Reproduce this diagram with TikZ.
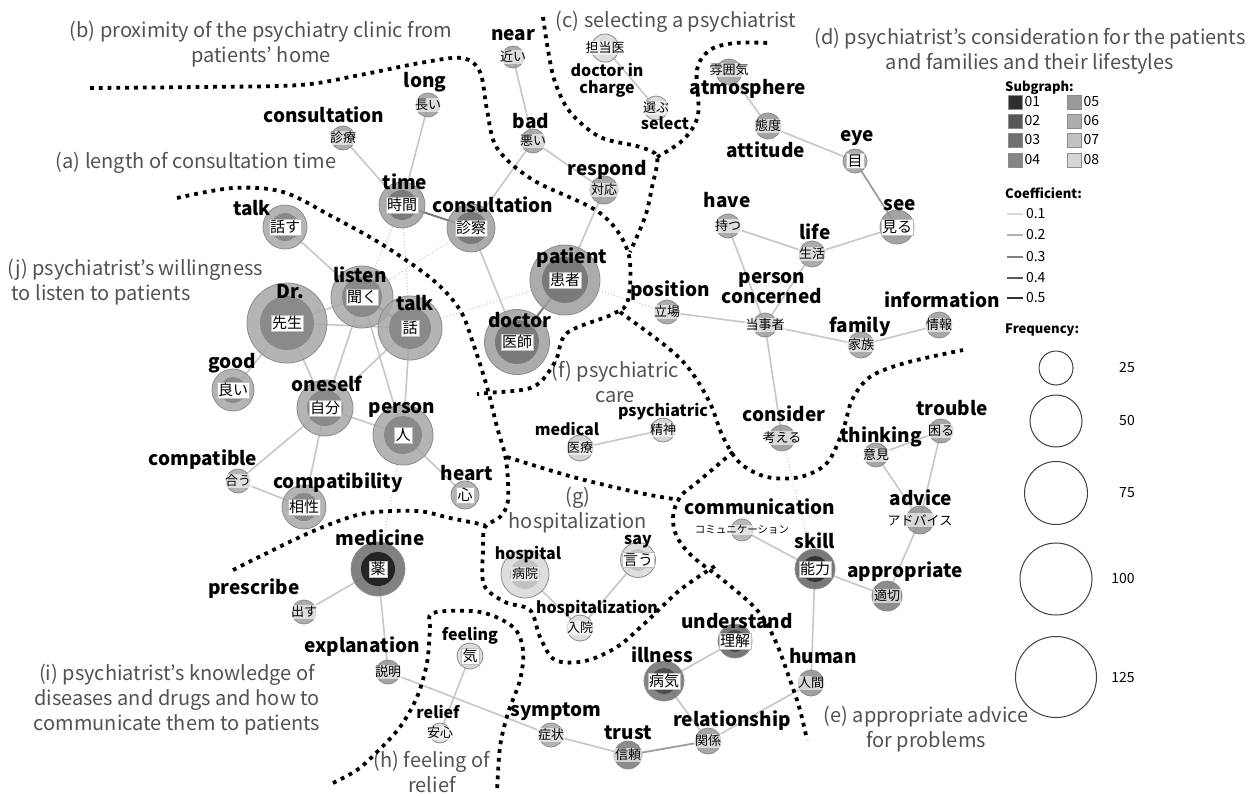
\documentclass[tikz,border=0pt]{standalone}
\usepackage{fontspec}
\setmainfont{Noto Sans CJK JP}
\usepackage{tikz}
\usetikzlibrary{backgrounds}
\newcommand\enfont{\bfseries\fontsize{19}{20}\selectfont}
\newcommand\ensfont{\bfseries\fontsize{16}{17}\selectfont}
\newcommand\jpfont{\fontsize{13}{14}\selectfont}
\newcommand\jpbfont{\fontsize{15}{16}\selectfont}
\newcommand\grpfont{\fontsize{20}{25}\selectfont}
\tikzset{
  wd/.style 2 args = {circle, draw=black!45, line width=0.8pt, fill=#1,
                      fill opacity=0.85, minimum size=#2, inner sep=0pt},
  core/.style 2 args = {path picture={\fill[#1, fill opacity=1]
                      (path picture bounding box.center) circle[radius=#2];}},
  jpb/.style   = {font=\jpbfont, fill=white, draw=black!25, line width=0.4pt,
                  inner sep=1.2pt},
  jps/.style   = {font=\jpfont, fill=white, fill opacity=0.6, text opacity=1,
                  inner sep=1pt},
  en/.style 2 args  = {font=\enfont, align=center, inner sep=0pt,
                       xshift=#1, yshift=#2},
  ens/.style 2 args = {font=\ensfont, align=center, inner sep=0pt,
                       xshift=#1, yshift=#2},
  grp/.style   = {font=\grpfont, text=black!68, align=center, inner sep=0pt},
  ed/.style    = {draw=black!22, line width=1.6pt},
  edmid/.style = {draw=black!38, line width=1.8pt},
  eddk/.style  = {draw=black!52, line width=2pt},
  eddot/.style = {draw=black!22, line width=1pt, dotted},
  bound/.style = {line width=3.8pt, dash pattern=on 3.8pt off 5pt},
  lgt/.style   = {font=\bfseries\fontsize{13}{14}\selectfont, anchor=west, inner sep=0pt},
  lg/.style    = {font=\fontsize{14}{15}\selectfont, inner sep=2pt},
  sq/.style    = {draw=black!45, line width=0.6pt, minimum size=14, inner sep=0pt},
  cf/.style    = {line width=2pt},
  fq/.style    = {circle, draw=black!75, line width=1pt, inner sep=0pt}
}
\begin{document}
\begin{tikzpicture}[x=1pt, y=-1pt]
\useasboundingbox (0,0) rectangle (1255,795);

% region labels
\node[grp] (rb) at (261,44) {(b) proximity of the psychiatry clinic from\\patients’ home};
\node[grp] (rc) at (676,22) {(c) selecting a psychiatrist};
\node[grp] (rd) at (1030,51) {(d) psychiatrist’s consideration for the patients\\and families and their lifestyles};
\node[grp] (ra) at (196,163) {(a) length of consultation time};
\node[grp, anchor=west, align=left] (rj) at (7,282) {(j) psychiatrist’s willingness\\\ to listen to patients};
\node[grp] (rf) at (615,382) {(f) psychiatric\\care};
\node[grp] (rg) at (578,510) {(g)\\hospitalization};
\node[grp] (ri) at (177,700) {(i) psychiatrist’s knowledge of\\diseases and drugs and how to\\communicate them to patients};
\node[grp] (rh) at (432,772) {(h) feeling of\\relief};
\node[grp] (re) at (926,729) {(e) appropriate advice\\for problems};

% (b), (c): proximity, selection
\node[wd={black!38}{22}, label={[jps]center:近い}, label={[en={0}{22}]center:near}] (near) at (513,57) {};
\node[wd={black!15}{28}, label={[jps]center:担当医}, label={[ens={2}{-32}]center:doctor in\\charge}] (charge) at (605,48) {};
\node[wd={black!15}{24}, label={[jps]center:選ぶ}, label={[ens={9}{-15}]center:select}] (select) at (656,108) {};
\node[wd={black!38}{24}, label={[jps]center:悪い}, label={[en={-2}{20}]center:bad}] (bad) at (533,141) {};
\node[wd={black!40}{28}, label={[jps]center:対応}, label={[en={3}{20}]center:respond}] (respond) at (604,190) {};

% (a): consultation time
\node[wd={black!38}{24}, label={[jps]center:長い}, label={[en={-3}{23}]center:long}] (long) at (428,105) {};
\node[wd={black!38}{24}, label={[jps]center:診療}, label={[en={-19}{23}]center:consultation}] (consult) at (343,138) {};
\node[wd={black!38}{46}, core={black!52}{15}, label={[jpb]center:時間}, label={[en={3}{23}]center:time}] (time) at (402,205) {};
\node[wd={black!38}{48}, core={black!52}{16}, label={[jpb]center:診察}, label={[en={22}{23}]center:consultation}] (exam) at (471,228) {};
\node[wd={black!38}{70}, core={black!52}{23}, label={[jpb]center:患者}, label={[en={7}{22}]center:patient}] (patient) at (565,280) {};
\node[wd={black!38}{65}, core={black!52}{22}, label={[jpb]center:医師}, label={[en={3}{22}]center:doctor}] (doctor) at (517,342) {};

% (j): willingness to listen
\node[wd={black!34}{44}, core={black!46}{14}, label={[jpb]center:話す}, label={[en={-33}{19}]center:talk}] (talkA) at (285,227) {};
\node[wd={black!34}{80}, core={black!46}{27}, label={[jpb]center:先生}, label={[en={3}{31}]center:Dr.}] (dr) at (287,323) {};
\node[wd={black!34}{62}, core={black!46}{20}, label={[jpb]center:聞く}, label={[en={-2}{22}]center:listen}] (listen) at (362,297) {};
\node[wd={black!34}{64}, core={black!46}{21}, label={[jpb]center:話}, label={[en={5}{25}]center:talk}] (talkB) at (410,328) {};
\node[wd={black!34}{42}, core={black!46}{13}, label={[jpb]center:良い}, label={[en={-1}{27}]center:good}] (good) at (233,390) {};
\node[wd={black!34}{56}, core={black!46}{18}, label={[jpb]center:自分}, label={[en={2}{24}]center:oneself}] (oneself) at (325,408) {};
\node[wd={black!34}{60}, core={black!46}{19}, label={[jpb]center:人}, label={[en={-1}{25}]center:person}] (person) at (403,435) {};
\node[wd={black!34}{24}, label={[jps]center:合う}, label={[en={-35}{21}]center:compatible}] (compatible) at (238,481) {};
\node[wd={black!34}{44}, core={black!46}{14}, label={[jpb]center:相性}, label={[en={34}{24}]center:compatibility}] (compat) at (304,507) {};
\node[wd={black!34}{28}, label={[jpb]center:心}, label={[en={2}{22}]center:heart}] (heart) at (465,495) {};

% (d): consideration
\node[wd={black!38}{26}, label={[jps, yshift=2]center:雰囲気}, label={[en={19}{-17}]center:atmosphere}] (atmos) at (729,72) {};
\node[wd={black!42}{26}, label={[jps]center:態度}, label={[en={-2}{-24}]center:attitude}] (attitude) at (768,126) {};
\node[wd={black!38}{24}, label={[jpb]center:目}, label={[en={2}{23}]center:eye}] (eye) at (855,161) {};
\node[wd={black!42}{34}, label={[jpb]center:見る}, label={[en={3}{22}]center:see}] (see) at (897,227) {};
\node[wd={black!38}{24}, label={[jps]center:持つ}, label={[en={-1}{26}]center:have}] (have) at (728,226) {};
\node[wd={black!38}{26}, label={[jps]center:生活}, label={[en={3}{22}]center:life}] (life) at (812,254) {};
\node[wd={black!38}{24}, label={[jps]center:立場}, label={[en={3}{21}]center:position}] (position) at (667,312) {};
\node[wd={black!38}{24}, label={[jps]center:当事者}, label={[en={7}{37}]center:person\\concerned}] (concerned) at (765,325) {};
\node[wd={black!38}{26}, label={[jps]center:家族}, label={[en={-1}{18}]center:family}] (family) at (861,345) {};
\node[wd={black!40}{26}, label={[jps]center:情報}, label={[en={3}{25}]center:information}] (info) at (939,325) {};
\node[wd={black!42}{26}, label={[jps]center:考える}, label={[en={2}{24}]center:consider}] (consider) at (782,438) {};

% (e): advice
\node[wd={black!40}{24}, label={[jps]center:困る}, label={[en={11}{23}]center:trouble}] (trouble) at (941,431) {};
\node[wd={black!40}{24}, label={[jps]center:意見}, label={[en={5}{18}]center:thinking}] (thinking) at (876,455) {};
\node[wd={black!44}{28}, label={[jps]center:アドバイス}, label={[en={1}{22}]center:advice}] (advice) at (920,520) {};
\node[wd={black!32}{22}, label={[jps, font=\fontsize{10.5}{11}\selectfont]center:コミュニケーション}, label={[en={18}{23}]center:communication}] (commun) at (742,530) {};
\node[wd={black!62}{40}, core={black!80}{13}, label={[jpb]center:能力}, label={[en={0}{28}]center:skill}] (skill) at (815,569) {};
\node[wd={black!52}{30}, label={[jps]center:適切}, label={[en={18}{24}]center:appropriate}] (approp) at (887,596) {};
\node[wd={black!44}{26}, label={[jps]center:人間}, label={[en={12}{27}]center:human}] (human) at (811,683) {};

% (f), (g): psychiatric care, hospitalization
\node[wd={black!20}{26}, label={[jps]center:医療}, label={[ens={-13}{19}]center:medical}] (medical) at (580,448) {};
\node[wd={black!20}{24}, label={[jps]center:精神}, label={[ens={0}{18}]center:psychiatric}] (psych) at (663,430) {};
\node[wd={black!15}{48}, core={black!24}{15}, label={[jps]center:病院}, label={[ens={3}{20}]center:hospital}] (hospital) at (525,574) {};
\node[wd={black!15}{35}, core={black!24}{11}, label={[jpb]center:言う}, label={[ens={0}{18}]center:say}] (say) at (638,560) {};
\node[wd={black!15}{26}, label={[jps]center:入院}, label={[ens={17}{20}]center:hospitalization}] (admit) at (580,628) {};

% (i): diseases and drugs
\node[wd={black!58}{54}, core={black!86}{17}, label={[jpb]center:薬}, label={[en={2}{31}]center:medicine}] (medicine) at (378,569) {};
\node[wd={black!38}{24}, label={[jps]center:出す}, label={[en={-50}{23}]center:prescribe}] (prescribe) at (304,612) {};
\node[wd={black!42}{24}, label={[jps]center:説明}, label={[en={-26}{25}]center:explanation}] (explain) at (388,672) {};
\node[wd={black!62}{34}, core={black!72}{11}, label={[jpb]center:理解}, label={[en={2}{20}]center:understand}] (understand) at (735,641) {};
\node[wd={black!57}{40}, core={black!70}{13}, label={[jpb]center:病気}, label={[en={-2}{26}]center:illness}] (illness) at (664,681) {};
\node[wd={black!40}{26}, label={[jps]center:関係}, label={[en={24}{20}]center:relationship}] (relation) at (708,741) {};
\node[wd={black!52}{28}, label={[jps]center:信頼}, label={[en={0}{22}]center:trust}] (trust) at (628,755) {};
\node[wd={black!34}{24}, label={[jps]center:症状}, label={[en={5}{23}]center:symptom}] (symptom) at (551,735) {};

% (h): feeling of relief
\node[wd={black!16}{26}, label={[jpb]center:気}, label={[ens={0}{20}]center:feeling}] (feeling) at (470,656) {};
\node[wd={black!16}{20}, label={[jps]center:安心}, label={[ens={-2}{21}]center:relief}] (relief) at (440,733) {};

% legend
\node[lgt] (tsub) at (1005,88) {Subgraph:};
\node[sq, fill=black!82, label={[lg]right:01}] (sg1) at (1015,102) {};
\node[sq, fill=black!66, label={[lg]right:02}] (sg2) at (1015,121) {};
\node[sq, fill=black!56, label={[lg]right:03}] (sg3) at (1015,140) {};
\node[sq, fill=black!48, label={[lg]right:04}] (sg4) at (1015,160) {};
\node[sq, fill=black!40, label={[lg]right:05}] (sg5) at (1074,102) {};
\node[sq, fill=black!32, label={[lg]right:06}] (sg6) at (1074,121) {};
\node[sq, fill=black!24, label={[lg]right:07}] (sg7) at (1074,140) {};
\node[sq, fill=black!16, label={[lg]right:08}] (sg8) at (1074,160) {};
\node[lgt] (tcoef) at (1005,193) {Coefficient:};
\draw[cf, draw=black!15] (1007,214) -- (1023,214) node[lg, right] (cf1) {0.1};
\draw[cf, draw=black!30] (1007,235) -- (1023,235) node[lg, right] (cf2) {0.2};
\draw[cf, draw=black!50] (1007,257) -- (1023,257) node[lg, right] (cf3) {0.3};
\draw[cf, draw=black!65] (1007,278) -- (1023,278) node[lg, right] (cf4) {0.4};
\draw[cf, draw=black!80] (1007,298) -- (1023,298) node[lg, right] (cf5) {0.5};
\node[lgt] (tfreq) at (1005,330) {Frequency:};
\node[fq, minimum size=34] (f25) at (1056,368) {};
\node[fq, minimum size=52] (f50) at (1056,421) {};
\node[fq, minimum size=63] (f75) at (1056,493) {};
\node[fq, minimum size=72] (f100) at (1056,579) {};
\node[fq, minimum size=81] (f125) at (1056,677) {};
\node[lg] (n25) at (1127,368) {25};
\node[lg] (n50) at (1127,421) {50};
\node[lg] (n75) at (1127,493) {75};
\node[lg] (n100) at (1123,579) {100};
\node[lg] (n125) at (1123,677) {125};

% co-occurrence edges
\begin{pgfonlayer}{background}
\fill[white] (0,0) rectangle (1255,795);
\draw[ed]   (near.center)    -- (bad.center);
\draw[ed]   (charge.center)  -- (select.center);
\draw[ed]   (long.center)    -- (time.center);
\draw[ed]   (consult.center) -- (time.center);
\draw[ed]   (bad.center)     -- (respond.center);
\draw[ed]   (bad.center)     -- (exam.center);
\draw[ed]   (respond.center) -- (patient.center);
\draw[eddk] (time.center)    -- (exam.center);
\draw[ed]   (exam.center)    -- (doctor.center);
\draw[eddk] (doctor.center)  -- (patient.center);
\draw[eddot] (time.center)   -- (listen.center);
\draw[eddot] (time.center)   -- (talkB.center);
\draw[eddot] (exam.center)   -- (listen.center);
\draw[eddot] (talkB.center)  -- (patient.center);
\draw[eddot] (patient.center) -- (position.center);
\draw[ed]   (talkA.center)   -- (listen.center);
\draw[ed]   (dr.center)      -- (listen.center);
\draw[ed]   (dr.center)      -- (talkB.center);
\draw[eddk] (listen.center)  -- (talkB.center);
\draw[ed]   (dr.center)      -- (good.center);
\draw[ed]   (dr.center)      -- (oneself.center);
\draw[ed]   (listen.center)  -- (oneself.center);
\draw[ed]   (listen.center)  -- (person.center);
\draw[ed]   (talkB.center)   -- (oneself.center);
\draw[ed]   (talkB.center)   -- (person.center);
\draw[ed]   (oneself.center) -- (person.center);
\draw[ed]   (oneself.center) -- (compatible.center);
\draw[ed]   (oneself.center) -- (compat.center);
\draw[ed]   (compatible.center) -- (compat.center);
\draw[ed]   (person.center)  -- (heart.center);
\draw[eddot] (medicine.center) -- (person.center);
\draw[ed]   (atmos.center)   -- (attitude.center);
\draw[ed]   (attitude.center) -- (eye.center);
\draw[edmid] (eye.center)    -- (see.center);
\draw[ed]   (see.center)     -- (life.center);
\draw[ed]   (have.center)    -- (life.center);
\draw[ed]   (have.center)    -- (concerned.center);
\draw[ed]   (life.center)    -- (concerned.center);
\draw[ed]   (position.center) -- (concerned.center);
\draw[ed]   (concerned.center) -- (family.center);
\draw[ed]   (family.center)  -- (info.center);
\draw[ed]   (concerned.center) -- (consider.center);
\draw[eddot] (consider.center) -- (skill.center);
\draw[ed]   (thinking.center) -- (trouble.center);
\draw[ed]   (thinking.center) -- (advice.center);
\draw[ed]   (trouble.center) -- (advice.center);
\draw[ed]   (advice.center)  -- (approp.center);
\draw[ed]   (skill.center)   -- (approp.center);
\draw[ed]   (commun.center)  -- (skill.center);
\draw[ed]   (skill.center)   -- (human.center);
\draw[ed]   (human.center)   -- (relation.center);
\draw[ed]   (medical.center) -- (psych.center);
\draw[ed]   (hospital.center) -- (admit.center);
\draw[ed]   (say.center)     -- (admit.center);
\draw[ed]   (understand.center) -- (illness.center);
\draw[ed]   (illness.center) -- (relation.center);
\draw[edmid] (relation.center) -- (trust.center);
\draw[ed]   (trust.center)   -- (symptom.center);
\draw[ed]   (symptom.center) -- (explain.center);
\draw[ed]   (explain.center) -- (medicine.center);
\draw[ed]   (medicine.center) -- (prescribe.center);
\draw[ed]   (feeling.center) -- (relief.center);
\end{pgfonlayer}

% hand-drawn group boundaries
\draw[bound] plot[smooth, tension=0.55] coordinates {(90,88) (200,87) (300,85) (360,75) (420,63) (462,58) (480,72) (487,110) (497,148) (533,180) (600,213) (628,252) (628,300) (613,314) (567,333) (555,362) (533,387) (487,393) (477,394)};
\draw[bound] plot[smooth, tension=0.55] coordinates {(543,17) (548,50) (555,82) (570,112) (600,137) (640,147) (657,157) (652,187) (645,217) (630,252)};
\draw[bound] plot[smooth, tension=0.55] coordinates {(657,157) (683,140) (698,115) (697,70) (710,50) (735,43) (770,43)};
\draw[bound] plot[smooth, tension=0.55] coordinates {(620,312) (667,347) (690,370) (710,403) (723,437) (740,463) (767,477) (800,477) (827,463) (843,430) (852,400) (870,377) (905,363) (963,350)};
\draw[bound] plot[smooth, tension=0.55] coordinates {(733,452) (700,480) (680,497) (673,517) (677,537) (693,557) (723,580) (757,610) (775,640) (790,680) (800,710) (807,740)};
\draw[bound] plot[smooth, tension=0.55] coordinates {(177,198) (233,188) (283,192) (333,217) (383,245) (433,280) (460,310) (473,343) (487,387) (497,427) (506,460) (508,500) (500,517) (485,527) (483,550) (484,585) (505,602) (530,610) (540,637) (555,660) (585,661) (617,647) (645,623) (680,590) (715,566)};
\draw[bound] plot[smooth, tension=0.55] coordinates {(507,457) (573,477) (640,493) (680,500)};
\draw[bound] plot[smooth, tension=0.55] coordinates {(233,570) (267,553) (300,537) (333,523) (367,513) (417,511) (450,518) (485,525)};
\draw[bound] plot[smooth, tension=0.55] coordinates {(333,783) (357,770) (377,752) (400,727) (417,697) (427,663) (430,630) (433,613) (480,612) (513,627) (523,650) (520,680) (508,713) (500,747) (497,793)};
\end{tikzpicture}
\end{document}
